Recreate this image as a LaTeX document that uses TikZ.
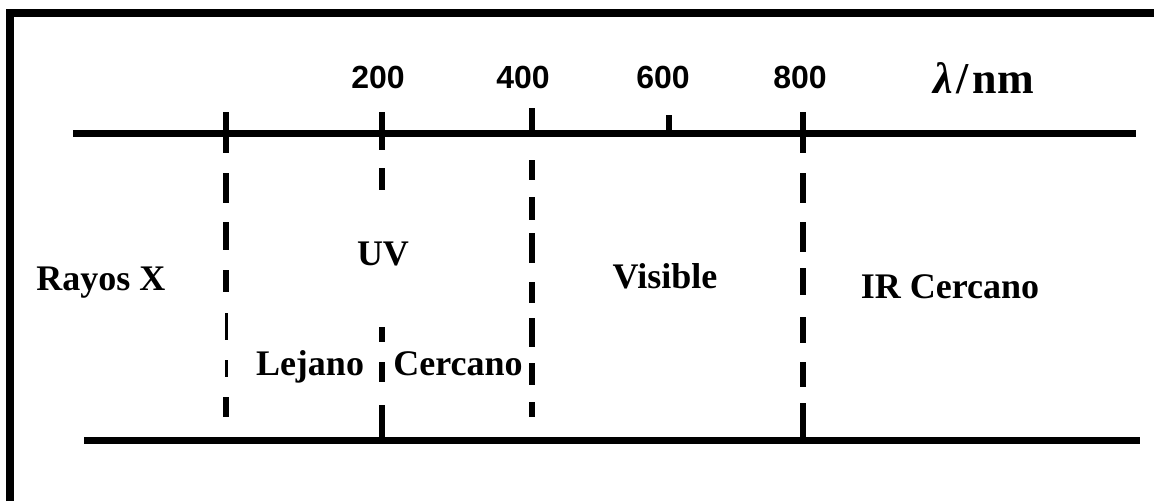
\documentclass[tikz,border=0pt]{standalone}
\usepackage{fontspec}
\setmainfont{Liberation Serif}
\newfontfamily\numfont{Liberation Sans}
\begin{document}
\begin{tikzpicture}[x=1pt,y=-1pt,
  axisline/.style={line width=7pt},
  frameline/.style={line width=8pt},
  dashseg/.style={line width=6pt},
  thinseg/.style={line width=3pt},
  lbl/.style={inner sep=0pt,anchor=base,font=\fontsize{36}{40}\selectfont\bfseries},
  num/.style={inner sep=0pt,anchor=base,font=\fontsize{32}{36}\selectfont\numfont\bfseries}]
\useasboundingbox (0,0) rectangle (1154,501);

% frame (top and left edges)
\draw[frameline] (10,501) -- (10,13) -- (1154,13);

% wavelength axes
\coordinate (topL) at (73,133);
\coordinate (topR) at (1136,133);
\coordinate (botL) at (84,440);
\coordinate (botR) at (1140,440);
\draw[axisline] (topL) -- (topR);
\draw[axisline] (botL) -- (botR);

% boundary between X-rays and UV
\foreach \a/\b in {112/153,173/203,222/250,270/292}
  \draw[dashseg] (226,\a) -- (226,\b);
\foreach \a/\b in {313/340,360/377}
  \draw[thinseg] (226,\a) -- (226,\b);
\draw[dashseg] (226,397) -- (226,417);

% 200 nm: far / near UV
\foreach \a/\b in {112/150,168/190,327/342,362/382,405/440}
  \draw[dashseg] (382,\a) -- (382,\b);

% 400 nm: UV / visible
\foreach \a/\b in {108/136,160/180,197/220,233/263,282/303,318/347,363/385,402/417}
  \draw[dashseg] (532,\a) -- (532,\b);

% 600 nm tick
\draw[dashseg] (669,115) -- (669,134);

% 800 nm: visible / near IR
\foreach \a/\b in {112/153,173/203,222/252,268/295,317/343,362/387,403/440}
  \draw[dashseg] (803,\a) -- (803,\b);

% scale labels
\node[num] (n200) at (378,88) {200};
\node[num] (n400) at (523,88) {400};
\node[num] (n600) at (663,88) {600};
\node[num] (n800) at (800,88) {800};
\node[lbl,anchor=base west,font=\fontsize{44}{48}\selectfont\bfseries] (unit) at (933,93)
  {\textit{λ}\hspace{4pt}/\hspace{4pt}nm};

% region labels
\node[lbl] (rx) at (101,290) {Rayos X};
\node[lbl] (uv) at (383,265) {UV};
\node[lbl] (vis) at (665,288) {Visible};
\node[lbl] (ir) at (950,298) {IR Cercano};
\node[lbl] (far) at (310,375) {Lejano};
\node[lbl] (near) at (458,375) {Cercano};
\end{tikzpicture}
\end{document}
